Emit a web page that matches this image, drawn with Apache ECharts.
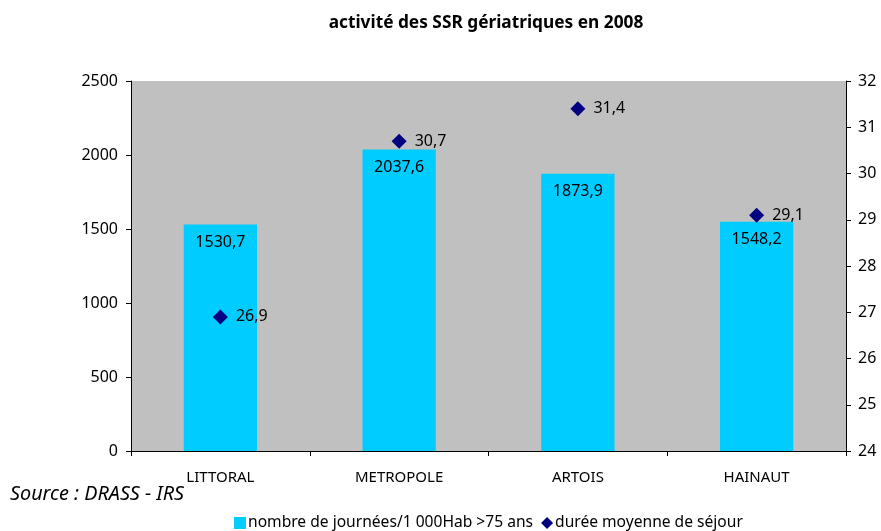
<!DOCTYPE html>
<html>
<head>
<meta charset="utf-8" />
<title>activité des SSR gériatriques en 2008</title>
<script src="https://cdn.jsdelivr.net/npm/echarts@6/dist/echarts.min.js"></script>
<style>
  html, body { margin: 0; padding: 0; background: #fff; }
  #main { width: 881px; height: 531px; }
</style>
</head>
<body>
<div id="main"></div>
<script type="text/javascript">
var categories = ['LITTORAL', 'METROPOLE', 'ARTOIS', 'HAINAUT'];
var journees = [1530.7, 2037.6, 1873.9, 1548.2];
var duree = [26.9, 30.7, 31.4, 29.1];

var seriesNames = ['nombre de journées/1 000Hab >75 ans', 'durée moyenne de séjour'];

function virgule(v) {
    return String(v).replace('.', ',');
}

var font = 'Noto Sans';
var myChart = echarts.init(document.getElementById('main'));

var option = {
    backgroundColor: '#fff',
    animation: false,
    textStyle: { fontFamily: font },
    title: {
        text: 'activité des SSR gériatriques en 2008',
        left: 481,
        textAlign: 'center',
        top: 10,
        textStyle: { fontSize: 17.3, fontWeight: 'bold', color: '#000', fontFamily: font }
    },
    graphic: [{
        type: 'text',
        left: 10,
        top: 484,
        style: { text: 'Source : DRASS - IRS', fontSize: 19.8, fontStyle: 'italic', fill: '#000', fontFamily: font }
    }],
    legend: {
        left: 229,
        top: 510,
        itemWidth: 12,
        itemHeight: 12,
        itemGap: 8,
        textStyle: { fontSize: 15.6, color: '#000', padding: [0, 0, 0, -3] },
        data: [
            { name: seriesNames[0], icon: 'rect' },
            { name: seriesNames[1], icon: 'diamond' }
        ]
    },
    grid: {
        left: 131,
        right: 35,
        top: 81,
        bottom: 80,
        show: true,
        backgroundColor: '#c0c0c0',
        borderWidth: 0
    },
    xAxis: {
        type: 'category',
        data: categories,
        axisLine: { lineStyle: { color: '#000' } },
        axisTick: { show: true, length: 5, lineStyle: { color: '#000' } },
        axisLabel: { color: '#000', fontSize: 15, margin: 19 }
    },
    yAxis: [{
        type: 'value',
        min: 0,
        max: 2500,
        interval: 500,
        axisLine: { show: true, lineStyle: { color: '#000' } },
        axisTick: { show: true, length: 5, lineStyle: { color: '#000' } },
        splitLine: { show: false },
        axisLabel: { color: '#000', fontSize: 16, margin: 13, formatter: function (v) { return String(v); } }
    }, {
        type: 'value',
        min: 24,
        max: 32,
        interval: 1,
        position: 'right',
        axisLine: { show: true, lineStyle: { color: '#000' } },
        axisTick: { show: true, length: 5, lineStyle: { color: '#000' } },
        splitLine: { show: false },
        axisLabel: { color: '#000', fontSize: 16, margin: 12 }
    }],
    series: [{
        name: seriesNames[0],
        type: 'bar',
        data: journees,
        barWidth: '41%',
        itemStyle: { color: '#00ccff' },
        label: {
            show: true,
            position: 'insideTop',
            distance: 10,
            color: '#000',
            fontSize: 16,
            formatter: function (p) { return virgule(p.value); }
        }
    }, {
        name: seriesNames[1],
        type: 'scatter',
        yAxisIndex: 1,
        data: duree,
        symbol: 'diamond',
        symbolSize: 15,
        itemStyle: { color: '#000080', opacity: 1 },
        label: {
            show: true,
            position: 'right',
            distance: 8,
            color: '#000',
            fontSize: 16,
            formatter: function (p) { return virgule(p.value); }
        }
    }]
};
myChart.setOption(option);
</script>
</body>
</html>
